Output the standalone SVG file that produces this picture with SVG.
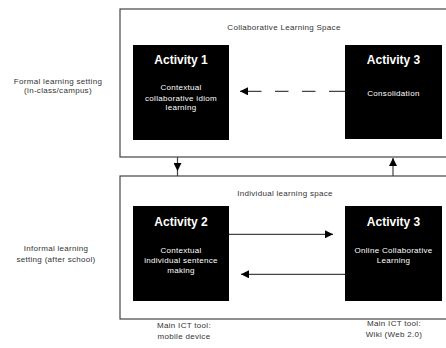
<svg xmlns="http://www.w3.org/2000/svg" width="446" height="348" viewBox="0 0 446 348">
<style>
text{font-family:"Liberation Sans",Arial,sans-serif;}
.lbl{font-size:8px;fill:#333;text-anchor:middle;letter-spacing:0.3px;}
.ttl{font-size:12px;font-weight:bold;fill:#fff;text-anchor:middle;}
.body{font-size:8px;fill:#fff;text-anchor:middle;letter-spacing:0.3px;}
.space{fill:#fff;stroke:#444;stroke-width:1.2;}
.act{fill:#000;}
.conn{stroke:#444;stroke-width:1.2;fill:none;}
</style>
<defs>
<marker id="ah" viewBox="0 0 10 10" refX="10" refY="5" markerWidth="8" markerHeight="8" markerUnits="userSpaceOnUse" orient="auto">
<path d="M0,0 L10,5 L0,10 Z" fill="#000"/>
</marker>
</defs>
<rect width="446" height="348" fill="#fff"/>
<g id="collab-space">
<rect class="space" x="120" y="9" width="340" height="148"/>
<text class="lbl" x="284" y="29.5">Collaborative Learning Space</text>
</g>
<g id="individual-space">
<rect class="space" x="120" y="176" width="340" height="143"/>
<text class="lbl" x="285" y="195.5">Individual learning space</text>
</g>
<g id="formal-label">
<text class="lbl" x="58" y="83.5">Formal learning setting</text>
<text class="lbl" x="58" y="93">(in-class/campus)</text>
</g>
<g id="informal-label">
<text class="lbl" x="56" y="250.5">Informal learning</text>
<text class="lbl" x="56" y="262">setting (after school)</text>
</g>
<g id="activity1">
<rect class="act" x="133" y="45" width="96" height="95"/>
<text class="ttl" x="181" y="64">Activity 1</text>
<text class="body" x="181" y="90">Contextual</text>
<text class="body" x="181" y="100.5">collaborative idiom</text>
<text class="body" x="181" y="110">learning</text>
</g>
<g id="activity3-top">
<rect class="act" x="345" y="45" width="97" height="94"/>
<text class="ttl" x="393.5" y="64">Activity 3</text>
<text class="body" x="393.5" y="96">Consolidation</text>
</g>
<g id="activity2">
<rect class="act" x="133" y="206" width="96" height="95"/>
<text class="ttl" x="181" y="226">Activity 2</text>
<text class="body" x="181" y="253">Contextual</text>
<text class="body" x="181" y="263">individual sentence</text>
<text class="body" x="181" y="272.5">making</text>
</g>
<g id="activity3-bottom">
<rect class="act" x="345" y="206" width="97" height="95"/>
<text class="ttl" x="393.5" y="226">Activity 3</text>
<text class="body" x="393.5" y="253">Online Collaborative</text>
<text class="body" x="393.5" y="263">Learning</text>
</g>
<g id="tool-mobile">
<text class="lbl" x="184" y="328">Main ICT tool:</text>
<text class="lbl" x="184" y="339">mobile device</text>
</g>
<g id="tool-wiki">
<text class="lbl" x="394" y="326">Main ICT tool:</text>
<text class="lbl" x="394" y="337">Wiki (Web 2.0)</text>
</g>
<g id="connectors">
<line class="conn" x1="345" y1="91.3" x2="240" y2="91.3" stroke-dasharray="16 13.5 13.5 13.5 13.5 13.5 13.5 0" marker-end="url(#ah)"/>
<line class="conn" x1="177.5" y1="157" x2="177.5" y2="171" marker-end="url(#ah)"/>
<line class="conn" x1="177.5" y1="171" x2="177.5" y2="176"/>
<line class="conn" x1="393" y1="176" x2="393" y2="158" marker-end="url(#ah)"/>
<line class="conn" x1="229" y1="234.3" x2="333" y2="234.3" marker-end="url(#ah)"/>
<line class="conn" x1="345" y1="274.3" x2="241" y2="274.3" marker-end="url(#ah)"/>
</g>
</svg>
